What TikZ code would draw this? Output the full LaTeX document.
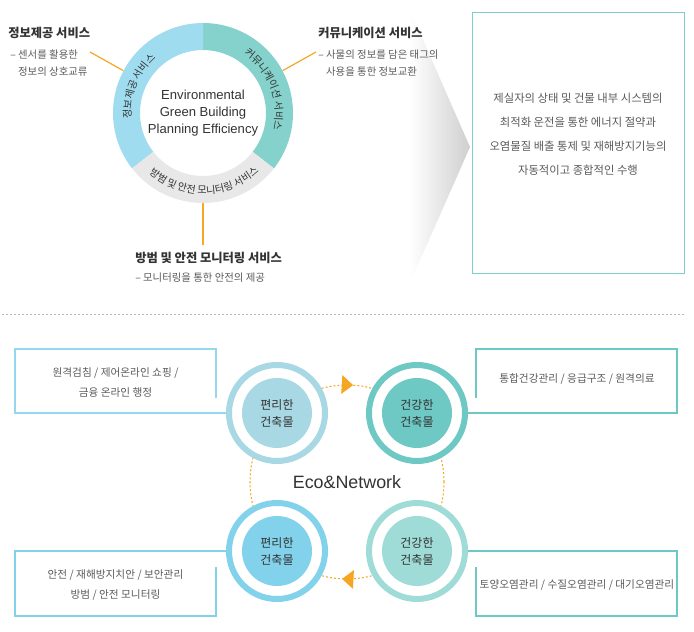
\documentclass[tikz,border=0pt]{standalone}
\usepackage{fontspec}
\setmainfont{Noto Sans CJK KR}
\newfontfamily\latinfont{Liberation Sans}
\usepackage{tikz}
\usetikzlibrary{arrows.meta,decorations.text,decorations.markings}

\definecolor{txtdark}{HTML}{333333}
\definecolor{txtgray}{HTML}{5A5A5A}
\definecolor{linkorange}{HTML}{F5A623}
\definecolor{ringblue}{HTML}{A0DCF0}
\definecolor{ringteal}{HTML}{84D2CB}
\definecolor{ringgray}{HTML}{E8E8E8}
\definecolor{panelteal}{HTML}{7ECFCA}
\definecolor{convA}{HTML}{A8D8E4}
\definecolor{hlthA}{HTML}{6EC8C3}
\definecolor{convB}{HTML}{82D2EC}
\definecolor{hlthB}{HTML}{A0DCD7}
\definecolor{boxA}{HTML}{96D7F0}

\newcommand\ringfont{\fontsize{7.6}{9}\selectfont}

\tikzset{x=0.75pt, y=0.75pt}
\tikzset{heading/.style={anchor=west, inner sep=0pt, font=\fontsize{9.2}{10}\selectfont\bfseries, text=txtdark},
  subline/.style={anchor=west, inner sep=0pt, align=left, font=\fontsize{7.8}{12.75}\selectfont, text=txtgray},
  leader/.style={draw=linkorange, line width=0.9pt},
  bldring/.style={circle, draw=#1, line width=4.5pt, fill=white, minimum size=72pt, inner sep=0pt},
  bldcore/.style={circle, fill=#1, minimum size=52.5pt, inner sep=0pt, align=center, text=txtdark, font=\fontsize{9}{12.75}\selectfont},
  boxline/.style={draw=#1, line width=1.1pt},
  boxtext/.style={align=center, text=txtgray, font=\fontsize{8}{15}\selectfont},
  orbit/.style={draw=linkorange, line width=0.8pt, dash pattern=on 1.5pt off 1.5pt},
  ringtext/.style={decorate, decoration={text along path, text align=center, text color=txtdark, text={|\ringfont|#1}}}}

\begin{document}
\begin{tikzpicture}
\useasboundingbox (0,0) rectangle (694,-632);

% chevron behind the top texts
\shade[left color=white, right color=gray!38] (410,-10) -- (470,-147) -- (410,-283) -- cycle;

% top: service ring
\node[circle, minimum size=135pt, inner sep=0pt, align=center, text=txtdark, font=\latinfont\fontsize{9.8}{12.75}\selectfont] at (203,-113)(ring) {Environmental\\Green Building\\Planning Efficiency};
\begin{scope}[shift={(ring.center)}]
\fill[ringteal] (90:90) arc[start angle=90, end angle=-38, radius=90] -- (-38:63) arc[start angle=-38, end angle=90, radius=63] -- cycle;
\fill[ringblue] (90:90) arc[start angle=90, end angle=218, radius=90] -- (218:63) arc[start angle=218, end angle=90, radius=63] -- cycle;
\fill[ringgray] (218:90) arc[start angle=218, end angle=322, radius=90] -- (322:63) arc[start angle=322, end angle=218, radius=63] -- cycle;
\path[ringtext={정보제공 서비스}] (215:72) arc[start angle=215, end angle=100, radius=72];
\path[ringtext={커뮤니케이션 서비스}] (85:72) arc[start angle=85, end angle=-43, radius=72];
\path[ringtext={방범 및 안전 모니터링 서비스}] (215:81) arc[start angle=215, end angle=327, radius=81];
\end{scope}

\node[heading] at (8,-33)(info) {정보제공 서비스};
\node[subline] at (10,-63.5)(infosub) {– 센서를 활용한\\\phantom{– }정보의 상호교류};
\node[heading] at (318,-33)(comm) {커뮤니케이션 서비스};
\node[subline] at (318,-63.5)(commsub) {– 사물의 정보를 담은 태그의\\\phantom{– }사용을 통한 정보교환};
\node[heading] at (135,-258)(guard) {방범 및 안전 모니터링 서비스};
\node[subline] at (135,-278)(guardsub) {– 모니터링을 통한 안전의 제공};

\coordinate (l1) at (90,-52);
\coordinate (l2) at (316,-52);
\coordinate (l3) at (203,-245);
\draw[leader] (ring.152) -- (l1);
\draw[leader] (ring.28) -- (l2);
\draw[leader] (ring.south) -- (l3);

% goal panel
\draw[panelteal, line width=0.75pt] (472,-12) rectangle (684,-273);
\node[align=center, text=txtgray, font=\fontsize{8.5}{18}\selectfont] at (578,-134)(goal) {제실자의 상태 및 건물 내부 시스템의\\최적화 운전을 통한 에너지 절약과\\오염물질 배출 통제 및 재해방지기능의\\자동적이고 종합적인 수행};

\draw[gray!55, line width=0.75pt, dash pattern=on 1.5pt off 1.5pt] (2,-314) -- (685,-314);

% bottom: eco network
\node[text=txtdark, font=\latinfont\fontsize{13.4}{15}\selectfont] at (347,-482)(eco) {Eco\&Network};
\draw[orbit, postaction={decorate}, decoration={markings,
  mark=at position 0.24 with {\arrowreversed{Triangle[length=8.5pt, width=14pt]}},
  mark=at position 0.742 with {\arrowreversed{Triangle[length=8.5pt, width=14pt]}}}] (eco) circle[radius=97];

\node[bldring=convA] at (277,-413)(conv1) {};
\node[bldcore=convA] at (conv1)(conv1c) {편리한\\건축물};
\node[bldring=hlthA] at (417,-413)(hlth1) {};
\node[bldcore=hlthA] at (hlth1)(hlth1c) {건강한\\건축물};
\node[bldring=convB] at (277,-551)(conv2) {};
\node[bldcore=convB] at (conv2)(conv2c) {편리한\\건축물};
\node[bldring=hlthB] at (417,-551)(hlth2) {};
\node[bldcore=hlthB] at (hlth2)(hlth2c) {건강한\\건축물};

\draw[boxline=boxA] (216,-398) |- (15,-349) |- (conv1.west);
\node[boxtext] at (115.5,-382)(svc1) {원격검침 / 제어온라인 쇼핑 /\\금융 온라인 행정};
\draw[boxline=hlthA] (476,-398) |- (677,-349) |- (hlth1.east);
\node[boxtext] at (577,-379)(svc2) {통합건강관리 / 응급구조 / 원격의료};
\draw[boxline=convB] (conv2.west) -| (15,-616) -| (216,-567);
\node[boxtext] at (115.5,-585)(svc3) {안전 / 재해방지치안 / 보안관리\\방범 / 안전 모니터링};
\draw[boxline=hlthA] (hlth2.east) -| (677,-616) -| (476,-567);
\node[boxtext] at (577,-585)(svc4) {토양오염관리 / 수질오염관리 / 대기오염관리};
\end{tikzpicture}
\end{document}
